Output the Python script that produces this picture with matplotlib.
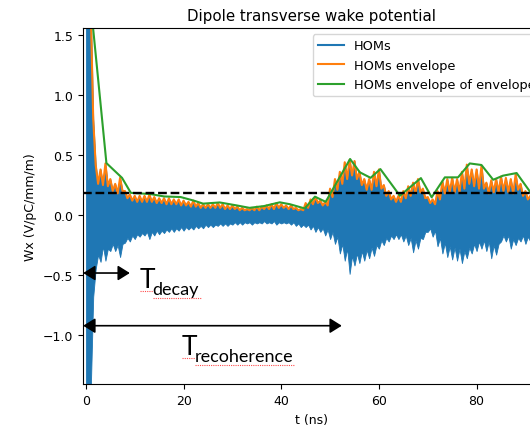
import numpy as np
import matplotlib.pyplot as plt
from matplotlib.lines import Line2D

# ===============================
# Data
# ===============================
# peaks of the envelope at whole ns, troughs half a ns later
t_peak = np.arange(0, 93, 1.0)
t_base = t_peak + 0.5

env_peak = [2.0, 1.7, 0.42, 0.38, 0.43, 0.30, 0.26, 0.31, 0.20, 0.17,
            0.16, 0.16, 0.16, 0.17, 0.15, 0.14, 0.14, 0.14, 0.13, 0.13,
            0.12, 0.11, 0.12, 0.10, 0.09, 0.09, 0.09, 0.10, 0.09, 0.08,
            0.08, 0.07, 0.06, 0.05, 0.06, 0.07, 0.07, 0.08, 0.09, 0.10,
            0.09, 0.08, 0.08, 0.06, 0.05, 0.10, 0.13, 0.15, 0.12, 0.11,
            0.22, 0.30, 0.36, 0.44, 0.46, 0.45, 0.36, 0.30, 0.30, 0.36,
            0.38, 0.25, 0.20, 0.16, 0.16, 0.20, 0.24, 0.27, 0.30, 0.22,
            0.15, 0.13, 0.20, 0.28, 0.30, 0.31, 0.30, 0.36, 0.42, 0.38,
            0.38, 0.41, 0.27, 0.29, 0.30, 0.32, 0.31, 0.30, 0.34, 0.26,
            0.20, 0.16, 0.15]
env_base = [2.0, 0.80, 0.26, 0.25, 0.24, 0.20, 0.18, 0.20, 0.14, 0.12,
            0.11, 0.11, 0.11, 0.11, 0.10, 0.10, 0.09, 0.09, 0.09, 0.08,
            0.08, 0.07, 0.07, 0.06, 0.06, 0.06, 0.06, 0.06, 0.05, 0.05,
            0.05, 0.04, 0.04, 0.04, 0.04, 0.04, 0.05, 0.05, 0.05, 0.06,
            0.06, 0.05, 0.05, 0.04, 0.04, 0.06, 0.09, 0.10, 0.08, 0.08,
            0.15, 0.21, 0.26, 0.30, 0.33, 0.30, 0.25, 0.21, 0.21, 0.24,
            0.22, 0.16, 0.13, 0.11, 0.11, 0.14, 0.16, 0.18, 0.19, 0.14,
            0.10, 0.09, 0.13, 0.18, 0.19, 0.19, 0.19, 0.22, 0.26, 0.24,
            0.22, 0.22, 0.18, 0.19, 0.19, 0.20, 0.19, 0.18, 0.21, 0.16,
            0.13, 0.11, 0.10]

# lower edge of the HOMs signal
low_deep = [-1.50, -1.45, -0.45, -0.39, -0.38, -0.30, -0.30, -0.35, -0.23, -0.22,
            -0.20, -0.18, -0.17, -0.20, -0.17, -0.16, -0.15, -0.14, -0.14, -0.13,
            -0.13, -0.12, -0.12, -0.11, -0.11, -0.10, -0.10, -0.09, -0.09, -0.09,
            -0.08, -0.08, -0.08, -0.07, -0.08, -0.07, -0.07, -0.07, -0.07, -0.08,
            -0.07, -0.07, -0.08, -0.09, -0.10, -0.10, -0.12, -0.14, -0.14, -0.17,
            -0.20, -0.24, -0.32, -0.38, -0.49, -0.42, -0.40, -0.38, -0.36, -0.34,
            -0.28, -0.25, -0.22, -0.20, -0.20, -0.22, -0.25, -0.31, -0.28, -0.20,
            -0.14, -0.18, -0.26, -0.32, -0.35, -0.37, -0.38, -0.40, -0.36, -0.32,
            -0.30, -0.28, -0.30, -0.36, -0.33, -0.22, -0.22, -0.28, -0.25, -0.22,
            -0.24, -0.22, -0.20]
low_shallow = [-1.50, -0.68, -0.33, -0.26, -0.28, -0.24, -0.25, -0.24, -0.19, -0.17,
               -0.16, -0.15, -0.14, -0.14, -0.13, -0.13, -0.12, -0.11, -0.11, -0.10,
               -0.10, -0.10, -0.09, -0.09, -0.08, -0.08, -0.08, -0.07, -0.07, -0.07,
               -0.06, -0.06, -0.06, -0.06, -0.06, -0.06, -0.05, -0.06, -0.05, -0.06,
               -0.06, -0.06, -0.06, -0.07, -0.08, -0.08, -0.09, -0.10, -0.11, -0.12,
               -0.14, -0.18, -0.24, -0.28, -0.34, -0.32, -0.30, -0.29, -0.27, -0.25,
               -0.21, -0.19, -0.17, -0.16, -0.16, -0.17, -0.19, -0.21, -0.19, -0.14,
               -0.11, -0.13, -0.19, -0.23, -0.26, -0.27, -0.28, -0.30, -0.27, -0.24,
               -0.22, -0.21, -0.22, -0.25, -0.24, -0.17, -0.17, -0.20, -0.19, -0.17,
               -0.18, -0.17, -0.15]

# envelope of envelope vertices
g_t = [0.4, 4.2, 7.4, 9.2, 13.2, 16.0, 19.4, 22.1, 24.0, 27.4, 30.9, 33.5,
       36.5, 39.7, 41.8, 44.8, 46.9, 49.1, 54.1, 56.1, 58.3, 60.3, 64.3, 68.6,
       70.8, 73.5, 76.2, 78.6, 81.0, 83.4, 85.4, 88.2, 91.2, 92.5]
g_y = [2.0, 0.433, 0.31, 0.185, 0.175, 0.155, 0.15, 0.12, 0.095, 0.105, 0.08, 0.06,
       0.075, 0.106, 0.09, 0.055, 0.153, 0.11, 0.467, 0.356, 0.31, 0.383, 0.161, 0.308,
       0.148, 0.314, 0.314, 0.43, 0.417, 0.294, 0.328, 0.35, 0.18, 0.15]

threshold = 0.183
t_decay = 9.0
t_recoh = 52.4

t = np.column_stack([t_peak, t_base]).ravel()
env = np.column_stack([env_peak, env_base]).ravel()
low = np.column_stack([low_deep, low_shallow]).ravel()

# ===============================
# Figure
# ===============================
plt.rcParams["font.size"] = 9

fig = plt.figure(figsize=(5.3, 4.27), dpi=100)
ax = fig.add_axes([0.157, 0.0977, 0.862, 0.8337])

ax.fill_between(t, low, env, color="#1f77b4", lw=0.6, edgecolor="#1f77b4")
ax.plot(t, env, color="#ff7f0e", lw=1.5)
ax.plot(g_t, g_y, color="#2ca02c", lw=1.5)

ax.axhline(threshold, color="black", ls="--", lw=1.7)

ax.set_xlim(-0.55, 93)
ax.set_ylim(-1.41, 1.556)
ax.set_xticks([0, 20, 40, 60, 80])
ax.set_yticks([-1.0, -0.5, 0.0, 0.5, 1.0, 1.5])

ax.set_title("Dipole transverse wake potential", fontsize=10.8)
ax.set_xlabel("t (ns)")
ax.set_ylabel("Wx (V/pC/mm/m)")

handles = [Line2D([], [], color="#1f77b4", lw=1.5),
           Line2D([], [], color="#ff7f0e", lw=1.5),
           Line2D([], [], color="#2ca02c", lw=1.5)]
ax.legend(handles, ["HOMs", "HOMs envelope", "HOMs envelope of envelope"],
          loc="upper left", bbox_to_anchor=(0.502, 0.984), borderaxespad=0,
          fontsize=9.3)

# ===============================
# Annotations
# ===============================
arrow = dict(arrowstyle="<|-|>,head_length=0.4,head_width=0.25", color="black",
             lw=1.2, mutation_scale=18, shrinkA=0, shrinkB=0)
ax.annotate("", xy=(t_decay, -0.483), xytext=(-0.55, -0.483), arrowprops=arrow)
ax.annotate("", xy=(t_recoh, -0.922), xytext=(-0.55, -0.922), arrowprops=arrow)

ax.text(11.0, -0.60, "T", fontsize=19, family="Lato", va="baseline")
ax.text(13.6, -0.655, "decay", fontsize=13, family="Lato", va="baseline")
ax.text(19.6, -1.158, "T", fontsize=19, family="Lato", va="baseline")
ax.text(22.2, -1.215, "recoherence", fontsize=13, family="Lato", va="baseline")

# spell-check squiggles
squig = dict(color="red", lw=0.8, ls=(0, (1, 1)), alpha=0.7)
ax.plot([11.0, 13.8], [-0.63, -0.63], **squig)
ax.plot([13.8, 23.5], [-0.69, -0.69], **squig)
ax.plot([19.6, 22.4], [-1.19, -1.19], **squig)
ax.plot([22.4, 42.8], [-1.25, -1.25], **squig)

fig.savefig("out.png", dpi=100)
